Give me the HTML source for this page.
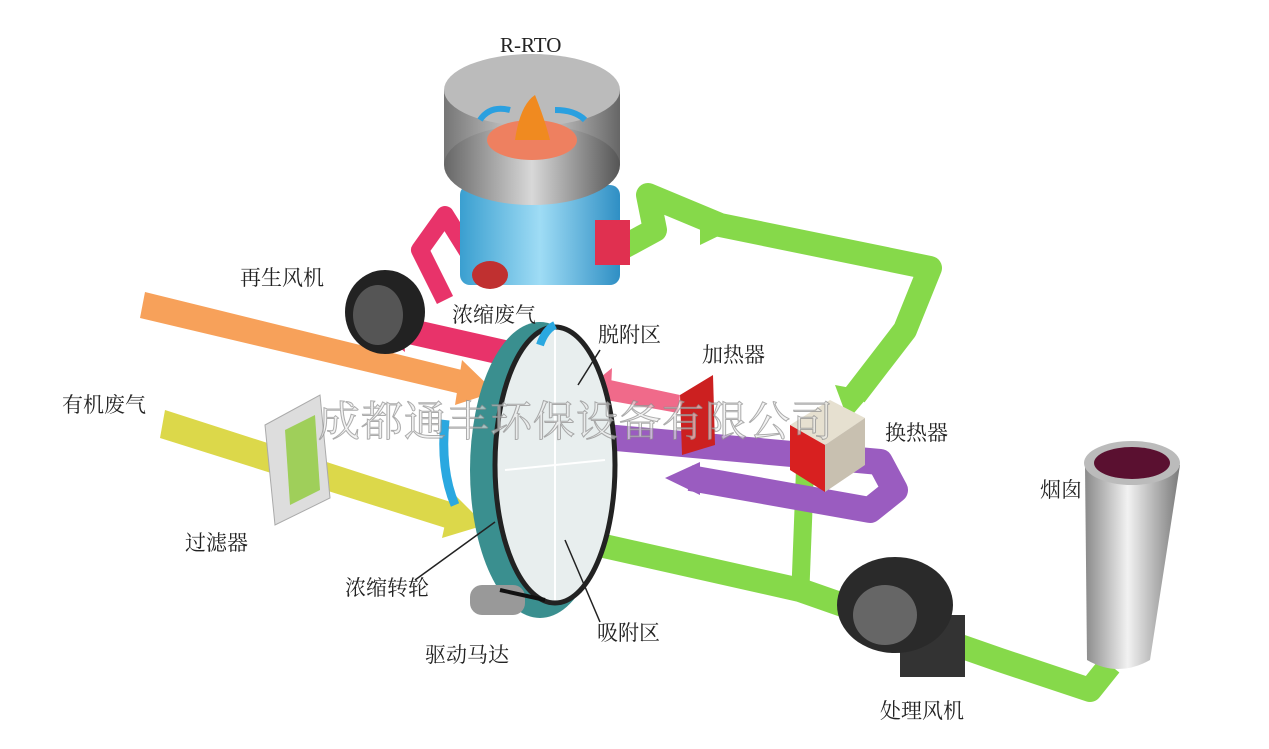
<!DOCTYPE html>
<html><head><meta charset="utf-8"><style>
html,body{margin:0;padding:0;background:#fff;}
svg{display:block}
text{font-family:"Liberation Serif","Noto Serif CJK SC","Noto Sans CJK SC",serif;font-size:21px;fill:#222}
</style></head><body>
<svg width="1269" height="749" viewBox="0 0 1269 749" xmlns="http://www.w3.org/2000/svg">
<defs>
<linearGradient id="stack" x1="0" x2="1"><stop offset="0" stop-color="#8a8a8a"/><stop offset=".45" stop-color="#f2f2f2"/><stop offset="1" stop-color="#7a7a7a"/></linearGradient>
<linearGradient id="blue" x1="0" x2="1"><stop offset="0" stop-color="#3a9fd0"/><stop offset=".5" stop-color="#9fdcf5"/><stop offset="1" stop-color="#2f8fc4"/></linearGradient>
<linearGradient id="gray" x1="0" x2="1"><stop offset="0" stop-color="#666"/><stop offset=".5" stop-color="#d8d8d8"/><stop offset="1" stop-color="#555"/></linearGradient>
</defs>

<polygon points="145,292 470,372 465,395 140,318" fill="#f7a15a"/>
<polygon points="462,360 495,392 455,405" fill="#f7a15a"/>
<polygon points="165,410 460,505 452,530 160,438" fill="#dcd84a"/>
<polygon points="452,492 485,525 442,538" fill="#dcd84a"/>

<polyline points="618,250 655,230 648,195 720,225 930,268 905,330 855,395" fill="none" stroke="#86d94a" stroke-width="24" stroke-linejoin="round"/>
<polygon points="700,208 735,228 700,245" fill="#86d94a"/>
<polygon points="835,385 872,392 848,420" fill="#86d94a"/>
<polyline points="805,470 800,600" fill="none" stroke="#86d94a" stroke-width="18"/>
<polyline points="555,535 800,590 900,625 1000,660 1090,690 1110,665" fill="none" stroke="#86d94a" stroke-width="24" stroke-linejoin="round"/>
<polygon points="1090,660 1125,660 1108,640" fill="#86d94a"/>

<polyline points="550,432 880,462 895,490 870,510 690,478" fill="none" stroke="#9a5cc0" stroke-width="26" stroke-linejoin="round"/>
<polygon points="700,462 665,478 700,495" fill="#9a5cc0"/>

<polygon points="550,350 395,315 390,340 545,375" fill="#e8336a"/>
<polygon points="400,300 370,325 405,352" fill="#e8336a"/>
<polyline points="445,300 420,250 445,215 470,255 480,230" fill="none" stroke="#e8336a" stroke-width="18" stroke-linejoin="round"/>
<polygon points="680,395 610,380 606,400 678,413" fill="#f06a8a"/>
<polygon points="612,368 585,390 610,412" fill="#f06a8a"/>

<rect x="460" y="185" width="160" height="100" rx="10" fill="url(#blue)"/>
<rect x="595" y="220" width="35" height="45" fill="#e03050"/>
<ellipse cx="490" cy="275" rx="18" ry="14" fill="#c03030"/>
<ellipse cx="532" cy="165" rx="88" ry="40" fill="url(#gray)"/>
<rect x="444" y="90" width="176" height="75" fill="url(#gray)" opacity=".9"/>
<ellipse cx="532" cy="90" rx="88" ry="36" fill="#bbb"/>
<ellipse cx="532" cy="140" rx="45" ry="20" fill="#ee8060"/>
<path d="M515,140 Q520,105 535,95 Q545,120 550,140 Z" fill="#f08a20"/>
<path d="M480,120 q10,-15 30,-10 M555,110 q20,0 30,10" stroke="#2aa0e0" stroke-width="6" fill="none"/>

<ellipse cx="385" cy="312" rx="40" ry="42" fill="#222"/>
<ellipse cx="378" cy="315" rx="25" ry="30" fill="#555"/>

<ellipse cx="540" cy="470" rx="70" ry="148" fill="#3a8f8f"/>
<ellipse cx="555" cy="465" rx="60" ry="138" fill="#e8eeee" stroke="#222" stroke-width="5"/>
<line x1="555" y1="330" x2="555" y2="600" stroke="#fff" stroke-width="2"/>
<line x1="505" y1="470" x2="605" y2="460" stroke="#fff" stroke-width="2"/>
<rect x="470" y="585" width="55" height="30" rx="12" fill="#999"/>
<path d="M500,590 L545,600" stroke="#111" stroke-width="4"/>
<path d="M445,420 Q440,470 455,505" stroke="#2aa8e0" stroke-width="9" fill="none"/>
<path d="M540,345 Q545,330 555,325" stroke="#2aa8e0" stroke-width="8" fill="none"/>

<polygon points="265,425 320,395 330,498 275,525" fill="#ddd" stroke="#aaa"/>
<polygon points="285,430 315,415 320,490 290,505" fill="#9fcf5a"/>

<polygon points="680,395 713,375 715,445 682,455" fill="#cc2020"/>
<polygon points="790,425 830,400 865,418 825,445" fill="#e6e0d0"/>
<polygon points="790,425 825,445 825,492 790,470" fill="#d82020"/>
<polygon points="825,445 865,418 865,465 825,492" fill="#c8c0b0"/>

<rect x="900" y="615" width="65" height="62" fill="#333"/>
<ellipse cx="895" cy="605" rx="58" ry="48" fill="#2a2a2a"/>
<ellipse cx="885" cy="615" rx="32" ry="30" fill="#666"/>

<path d="M1085,465 L1087,660 Q1118,678 1150,660 L1180,465 Z" fill="url(#stack)"/>
<ellipse cx="1132" cy="463" rx="48" ry="22" fill="#bbb"/>
<ellipse cx="1132" cy="463" rx="38" ry="16" fill="#5a1030"/>

<text x="500" y="52">R-RTO</text>
<text x="240" y="285">再生风机</text>
<text x="452" y="322">浓缩废气</text>
<text x="598" y="342">脱附区</text>
<text x="702" y="362">加热器</text>
<text x="885" y="440">换热器</text>
<text x="62" y="412">有机废气</text>
<text x="1040" y="497">烟囱</text>
<text x="185" y="550">过滤器</text>
<text x="345" y="595">浓缩转轮</text>
<text x="425" y="662">驱动马达</text>
<text x="597" y="640">吸附区</text>
<text x="880" y="718">处理风机</text>
<line x1="415" y1="580" x2="495" y2="522" stroke="#222" stroke-width="1.5"/>
<line x1="600" y1="622" x2="565" y2="540" stroke="#222" stroke-width="1.5"/>
<line x1="600" y1="350" x2="578" y2="385" stroke="#222" stroke-width="1.5"/>

<text x="318" y="436" style="font-size:42px;fill:rgba(235,235,235,.6);stroke:rgba(140,140,140,.7);stroke-width:1;letter-spacing:1px">成都通丰环保设备有限公司</text>
</svg>
</body></html>
